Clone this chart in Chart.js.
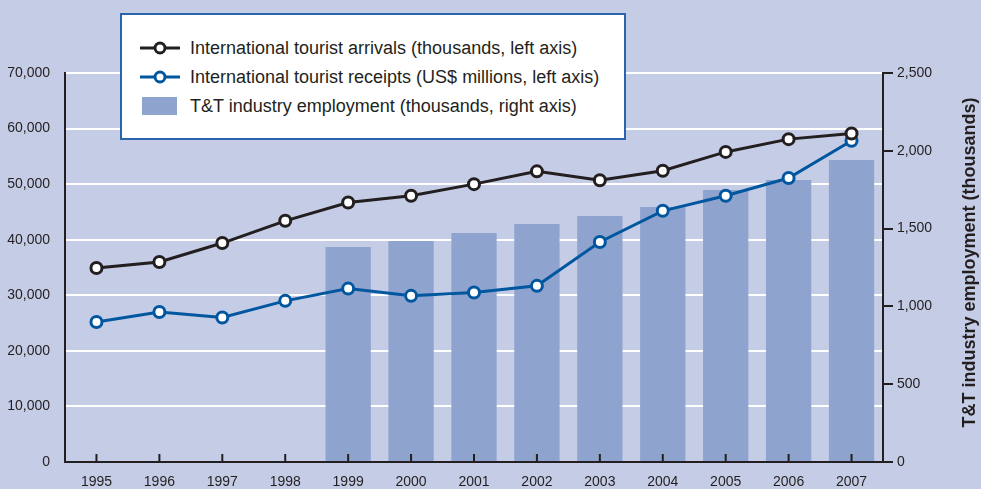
<!DOCTYPE html>
<html>
<head>
<meta charset="utf-8">
<script src="https://cdn.jsdelivr.net/npm/chart.js@4"></script>
<style>
  body { margin: 0; background: #c5cce6; }
  #wrap { position: relative; width: 981px; height: 489px; }
  #legend {
    position: absolute; left: 120px; top: 13px; width: 502px; height: 123px;
    background: #fff; border: 2px solid #2a64ad;
    font-family: "Liberation Sans Narrow", "Arial Narrow", sans-serif;
    font-size: 18px; color: #231f20;
  }
  .row { position: absolute; left: 18px; height: 20px; display: flex; align-items: center; }
  .row span { margin-left: 10px; }
</style>
</head>
<body>
<div id="wrap">
  <canvas id="chart" width="981" height="489"></canvas>
  <div id="legend">
    <div class="row" style="top:23px"><svg width="40" height="20"><line x1="0" y1="10" x2="40" y2="10" stroke="#231f20" stroke-width="3"/><circle cx="20" cy="10" r="5" fill="#fff" stroke="#231f20" stroke-width="3"/></svg><span>International tourist arrivals (thousands, left axis)</span></div>
    <div class="row" style="top:52px"><svg width="40" height="20"><line x1="0" y1="10" x2="40" y2="10" stroke="#0057a0" stroke-width="3"/><circle cx="20" cy="10" r="5" fill="#fff" stroke="#0057a0" stroke-width="3"/></svg><span>International tourist receipts (US$ millions, left axis)</span></div>
    <div class="row" style="top:81px"><svg width="40" height="20"><rect x="2" y="1" width="35" height="18" fill="#8fa3cf"/></svg><span>T&amp;T industry employment (thousands, right axis)</span></div>
  </div>
</div>
<script>
const years = ["1995", "1996", "1997", "1998", "1999", "2000", "2001", "2002", "2003", "2004", "2005", "2006", "2007"];
const arrivals = [34900, 36000, 39400, 43400, 46700, 47900, 50000, 52300, 50700, 52400, 55800, 58100, 59100];
const receipts = [25200, 27000, 26000, 29000, 31200, 29900, 30500, 31700, 39600, 45200, 47900, 51100, 57800];
const employment = [null, null, null, null, 1382, 1420, 1472, 1530, 1581, 1639, 1748, 1812, 1941];
const leftTicks = [0, 10000, 20000, 30000, 40000, 50000, 60000, 70000];
const rightTicks = [0, 500, 1000, 1500, 2000, 2500];

const FONT = "'Liberation Sans Narrow', 'Arial Narrow', sans-serif";
const INK = "#231f20";

// inward tick marks on the x axis + rotated right axis title
const extras = {
  id: "extras",
  afterDraw(chart) {
    const c = chart.ctx;
    const x = chart.scales.x;
    const bottom = chart.chartArea.bottom;
    c.save();
    c.strokeStyle = INK;
    c.lineWidth = 2;
    years.forEach((y, i) => {
      const px = x.getPixelForValue(i);
      c.beginPath();
      c.moveTo(px, bottom);
      c.lineTo(px, bottom - 8);
      c.stroke();
    });
    c.translate(970, (chart.chartArea.top + bottom) / 2 - 5);
    c.rotate(-Math.PI / 2);
    c.font = "bold 18px " + FONT;
    c.fillStyle = INK;
    c.textAlign = "center";
    c.textBaseline = "middle";
    c.fillText("T&T industry employment (thousands)", 0, 0);
    c.restore();
  }
};

new Chart(document.getElementById("chart"), {
  data: {
    labels: years,
    datasets: [
      {
        type: "line",
        data: arrivals,
        yAxisID: "y",
        borderColor: INK,
        borderWidth: 3,
        pointRadius: 5.5,
        pointBorderWidth: 3,
        pointBackgroundColor: "#fff",
        pointBorderColor: INK,
        tension: 0,
        order: 1,
      },
      {
        type: "line",
        data: receipts,
        yAxisID: "y",
        borderColor: "#0057a0",
        borderWidth: 3,
        pointRadius: 5.5,
        pointBorderWidth: 3,
        pointBackgroundColor: "#fff",
        pointBorderColor: "#0057a0",
        tension: 0,
        order: 1,
      },
      {
        type: "bar",
        data: employment,
        yAxisID: "y1",
        backgroundColor: "#8fa3cf",
        barPercentage: 0.72,
        categoryPercentage: 1,
        order: 2,
      },
    ],
  },
  options: {
    responsive: false,
    animation: false,
    layout: { padding: { top: 73, left: 0, right: 0, bottom: 0 } },
    plugins: { legend: { display: false }, tooltip: { enabled: false } },
    scales: {
      x: {
        offset: true,
        grid: { display: false },
        border: { color: INK, width: 2 },
        ticks: { color: INK, font: { family: FONT, size: 14 }, padding: 4, maxRotation: 0 },
        afterFit(s) { s.height = 27; },
      },
      y: {
        position: "left",
        min: 0,
        max: 70000,
        afterBuildTicks(s) { s.ticks = leftTicks.map(v => ({ value: v })); },
        grid: { color: "#fff", lineWidth: 2, drawTicks: false },
        border: { color: INK, width: 2 },
        ticks: {
          color: INK,
          font: { family: FONT, size: 14 },
          padding: 15,
          callback: v => v.toLocaleString("en-US"),
        },
        afterFit(s) { s.width = 65; },
      },
      y1: {
        position: "right",
        min: 0,
        max: 2500,
        afterBuildTicks(s) { s.ticks = rightTicks.map(v => ({ value: v })); },
        grid: { drawOnChartArea: false, color: INK, lineWidth: 2, tickLength: 10 },
        border: { color: INK, width: 2 },
        ticks: {
          color: INK,
          font: { family: FONT, size: 14 },
          padding: 4,
          callback: v => v.toLocaleString("en-US"),
        },
        afterFit(s) { s.width = 98; },
      },
    },
  },
  plugins: [extras],
});
</script>
</body>
</html>
